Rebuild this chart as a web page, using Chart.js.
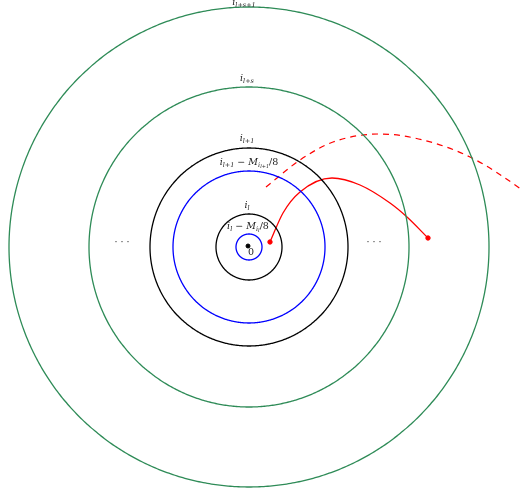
<!DOCTYPE html>
<html>
<head>
<meta charset="utf-8">
<script src="https://cdn.jsdelivr.net/npm/chart.js@4"></script>
<style>
    html, body { margin: 0; padding: 0; background: #fff; }
    #wrap { width: 522px; height: 493px; position: relative; }
</style>
</head>
<body>
<div id="wrap"><canvas id="diagram"></canvas></div>
<script>
// Ring radii (px-scale units, centre at origin) and their colours
const radii = [13, 33, 76, 99, 160, 240];
const ringColors = ['#0000ff', '#000000', '#0000ff', '#000000', '#2e8b57', '#2e8b57'];
const ringCenter = { x: 0, y: 0 };

// Solid red path (start point -> end point)
const pathX = [21, 34, 51, 83, 111, 141, 158, 179];
const pathY = [5, 34, 55, 69, 62, 44, 30, 9];

// Dashed red path
const dashX = [17, 51, 84, 131, 174, 221, 273, 291];
const dashY = [60, 87, 105, 113, 107, 90, 57, 42];

// Labels: position + tokens [text, level, upright]
const labelX = [-5, -2, -2, 0, -2, -1, 2, -127, 125];
const labelY = [244, 168, 108, 84, 41, 20, -6, 4, 4];
const labelTokens = [
    [['i', 0], ['l+s+1', 1]],
    [['i', 0], ['l+s', 1]],
    [['i', 0], ['l+1', 1]],
    [['i', 0], ['l+1', 1], [' − ', 0, true], ['M', 0], ['i', 1], ['l+1', 2], ['/8', 0, true]],
    [['i', 0], ['l', 1]],
    [['i', 0], ['l', 1], [' − ', 0, true], ['M', 0], ['i', 1], ['l', 2], ['/8', 0, true]],
    [['0', 0, true]],
    [['· · ·', 0, true]],
    [['· · ·', 0, true]]
];

function ringPoints(r) {
    const pts = [];
    for (let a = 0; a <= 360; a += 1) {
        const t = a * Math.PI / 180;
        pts.push({ x: ringCenter.x + r * Math.cos(t), y: ringCenter.y + r * Math.sin(t) });
    }
    return pts;
}

const sizes = [9.5, 6.5, 5];
const drops = [0, 2.5, 4];
function tokenFont(tok) {
    const style = tok[2] ? '' : 'italic ';
    return style + sizes[tok[1]] + 'px "DejaVu Serif", serif';
}

const labelPlugin = {
    id: 'labels',
    afterDatasetsDraw(chart) {
        const ctx = chart.ctx;
        const xs = chart.scales.x, ys = chart.scales.y;
        ctx.save();
        ctx.fillStyle = '#222';
        ctx.textBaseline = 'middle';
        ctx.textAlign = 'left';
        labelTokens.forEach((tokens, i) => {
            let w = 0;
            tokens.forEach(t => { ctx.font = tokenFont(t); w += ctx.measureText(t[0]).width; });
            let px = xs.getPixelForValue(labelX[i]) - w / 2;
            const py = ys.getPixelForValue(labelY[i]);
            tokens.forEach(t => {
                ctx.font = tokenFont(t);
                ctx.fillText(t[0], px, py + drops[t[1]]);
                px += ctx.measureText(t[0]).width;
            });
        });
        ctx.restore();
    }
};

// small tension avoids chart.js "fast path" which flattens the ring sides
const datasets = radii.map((r, i) => ({
    data: ringPoints(r),
    showLine: true,
    borderColor: ringColors[i],
    borderWidth: 1.3,
    pointRadius: 0,
    tension: 0.3
}));

datasets.push({
    data: pathX.map((x, i) => ({ x: x, y: pathY[i] })),
    showLine: true,
    borderColor: '#ff0000',
    borderWidth: 1.3,
    pointRadius: 0,
    cubicInterpolationMode: 'monotone'
});
datasets.push({
    data: dashX.map((x, i) => ({ x: x, y: dashY[i] })),
    showLine: true,
    borderColor: '#ff0000',
    borderWidth: 1.2,
    borderDash: [6, 5],
    pointRadius: 0,
    cubicInterpolationMode: 'monotone'
});
// endpoints of the solid path
datasets.push({
    data: [{ x: pathX[0], y: pathY[0] }, { x: pathX[pathX.length - 1], y: pathY[pathY.length - 1] }],
    showLine: false,
    pointRadius: 2.2,
    pointBackgroundColor: '#ff0000',
    pointBorderColor: '#ff0000'
});
// centre dot
datasets.push({
    data: [{ x: -1, y: 1 }],
    showLine: false,
    pointRadius: 2,
    pointBackgroundColor: '#000',
    pointBorderColor: '#000'
});

new Chart(document.getElementById('diagram'), {
    type: 'scatter',
    data: { datasets: datasets },
    options: {
        responsive: true,
        maintainAspectRatio: false,
        animation: false,
        layout: { padding: 0, autoPadding: false },
        plugins: { legend: { display: false }, tooltip: { enabled: false } },
        scales: {
            x: { type: 'linear', min: -249, max: 273, display: false },
            y: { type: 'linear', min: -246, max: 247, display: false }
        }
    },
    plugins: [labelPlugin]
});
</script>
</body>
</html>
